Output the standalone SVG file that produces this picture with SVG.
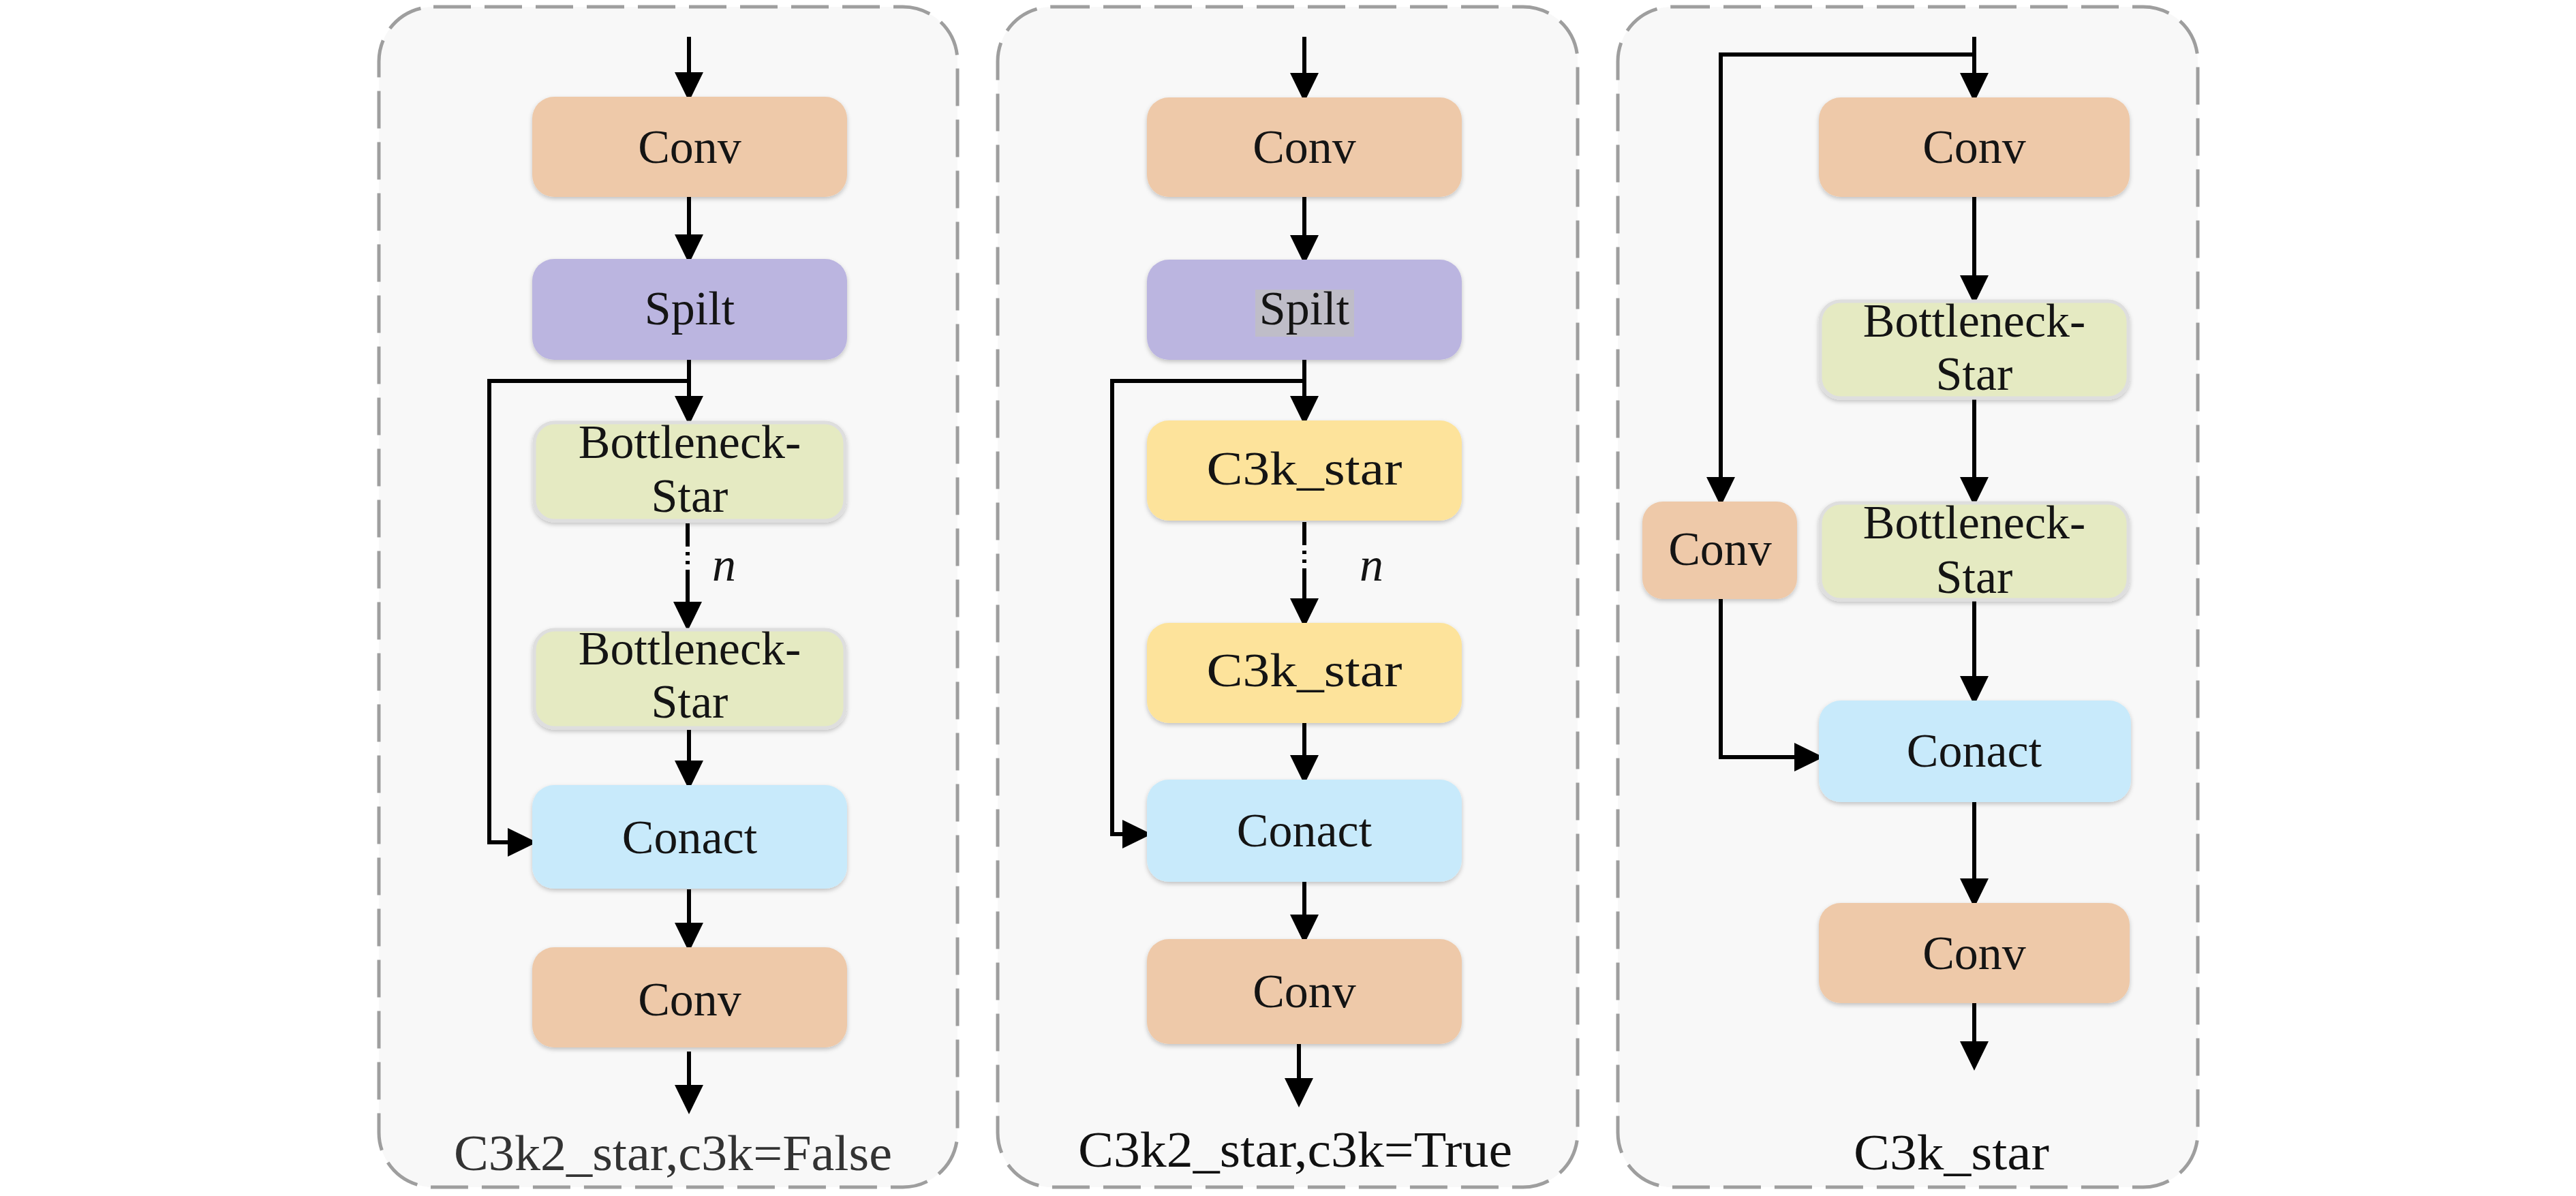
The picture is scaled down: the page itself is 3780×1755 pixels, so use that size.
<svg xmlns="http://www.w3.org/2000/svg" width="3780" height="1755" viewBox="0 0 3780 1755">
<defs>
<style>
.panel{fill:#F8F8F8;stroke:#9E9E9E;stroke-width:5;stroke-dasharray:55 20}
.box{filter:url(#sh)}
.conv{fill:#EEC9A9}
.split{fill:#BBB5E0}
.bneck{fill:#E5EAC2;stroke:#DEDEDE;stroke-width:5}
.c3k{fill:#FDE39B}
.concat{fill:#C8EAFB}
.t{font-family:"Liberation Serif","DejaVu Serif",serif;font-size:70px;fill:#141414;text-anchor:middle}
.it{font-family:"Liberation Serif","DejaVu Serif",serif;font-size:70px;font-style:italic;fill:#141414}
.lab{font-family:"Liberation Serif","DejaVu Serif",serif;font-size:75px;fill:#111}
.ln{fill:none;stroke:#000;stroke-width:6}
.ar{marker-end:url(#ah)}
.dd{stroke-dasharray:34 8 5 8 5 8 400}
</style>
<marker id="ah" markerUnits="userSpaceOnUse" markerWidth="43" markerHeight="42" viewBox="0 0 43 42" refX="36" refY="21" orient="auto">
<path d="M0,0 L43,21 L0,42 z" fill="#000"/>
</marker>
<filter id="sh" x="-10%" y="-10%" width="120%" height="130%">
<feDropShadow dx="0" dy="3" stdDeviation="3" flood-color="#000" flood-opacity="0.22"/>
</filter>
</defs>
<rect x="0" y="0" width="3780" height="1755" fill="#FFFFFF"/>

<g id="panel1">
<rect class="panel" x="556" y="10" width="849" height="1732" rx="80"/>
<text class="lab" x="666" y="1717" textLength="643" lengthAdjust="spacingAndGlyphs" style="fill:#333">C3k2_star,c3k=False</text>
</g>
<g id="panel2">
<rect class="panel" x="1464" y="10" width="851" height="1732" rx="80"/>
<text class="lab" x="1582" y="1712" textLength="637" lengthAdjust="spacingAndGlyphs">C3k2_star,c3k=True</text>
</g>
<g id="panel3">
<rect class="panel" x="2374" y="10" width="851" height="1732" rx="80"/>
<text class="lab" x="2720" y="1716" textLength="287" lengthAdjust="spacingAndGlyphs">C3k_star</text>
</g>

<g id="connectors">
<!-- panel 1 -->
<path class="ln ar" d="M1011,54 V142"/>
<path class="ln ar" d="M1011,289 V380"/>
<path class="ln ar" d="M1011,528 V617"/>
<path class="ln ar dd" d="M1009,768 V919"/>
<path class="ln ar" d="M1011,1071 V1152"/>
<path class="ln ar" d="M1011,1305 V1390"/>
<path class="ln ar" d="M1011,1543 V1628"/>
<path class="ln ar" d="M1011,559 H718 V1236 H781"/>
<!-- panel 2 -->
<path class="ln ar" d="M1914,54 V143"/>
<path class="ln ar" d="M1914,289 V381"/>
<path class="ln ar" d="M1914,528 V617"/>
<path class="ln ar dd" d="M1914,766 V914"/>
<path class="ln ar" d="M1914,1061 V1144"/>
<path class="ln ar" d="M1914,1294 V1378"/>
<path class="ln ar" d="M1906,1532 V1618"/>
<path class="ln ar" d="M1914,559 H1632 V1224 H1683"/>
<!-- panel 3 -->
<path class="ln ar" d="M2897,54 V143"/>
<path class="ln ar" d="M2897,80 H2525 V736"/>
<path class="ln ar" d="M2897,289 V440"/>
<path class="ln ar" d="M2897,586 V736"/>
<path class="ln ar" d="M2897,881 V1028"/>
<path class="ln ar" d="M2897,1177 V1325"/>
<path class="ln ar" d="M2897,1472 V1564"/>
<path class="ln ar" d="M2525,879 V1111 H2669"/>
</g>

<!-- panel 1 nodes -->
<g id="p1-conv1"><rect class="box conv" x="781" y="142" width="462" height="147" rx="32"/><text class="t" x="1012" y="239">Conv</text></g>
<g id="p1-split"><rect class="box split" x="781" y="380" width="462" height="148" rx="32"/><text class="t" x="1012" y="476">Spilt</text></g>
<g id="p1-bneck1"><rect class="box bneck" x="784" y="620" width="456" height="144" rx="30"/><text class="t" x="1012" y="672">Bottleneck-</text><text class="t" x="1012" y="751">Star</text></g>
<g id="p1-n"><text class="it" x="1045" y="852">n</text></g>
<g id="p1-bneck2"><rect class="box bneck" x="784" y="924" width="456" height="144" rx="30"/><text class="t" x="1012" y="975">Bottleneck-</text><text class="t" x="1012" y="1053">Star</text></g>
<g id="p1-concat"><rect class="box concat" x="781" y="1152" width="462" height="152" rx="32"/><text class="t" x="1012" y="1252">Conact</text></g>
<g id="p1-conv2"><rect class="box conv" x="781" y="1390" width="462" height="147" rx="32"/><text class="t" x="1012" y="1490">Conv</text></g>

<!-- panel 2 nodes -->
<g id="p2-conv1"><rect class="box conv" x="1683" y="143" width="462" height="146" rx="32"/><text class="t" x="1914" y="239">Conv</text></g>
<g id="p2-split"><rect class="box split" x="1683" y="381" width="462" height="147" rx="32"/><rect x="1842" y="425" width="145" height="69" fill="#BFBDC8"/><text class="t" x="1914" y="476">Spilt</text></g>
<g id="p2-c3k1"><rect class="box c3k" x="1683" y="617" width="462" height="147" rx="32"/><text class="t" x="1914" y="711" textLength="287" lengthAdjust="spacingAndGlyphs">C3k_star</text></g>
<g id="p2-n"><text class="it" x="1995" y="852">n</text></g>
<g id="p2-c3k2"><rect class="box c3k" x="1683" y="914" width="462" height="147" rx="32"/><text class="t" x="1914" y="1007" textLength="287" lengthAdjust="spacingAndGlyphs">C3k_star</text></g>
<g id="p2-concat"><rect class="box concat" x="1683" y="1144" width="462" height="150" rx="32"/><text class="t" x="1914" y="1242">Conact</text></g>
<g id="p2-conv2"><rect class="box conv" x="1683" y="1378" width="462" height="154" rx="32"/><text class="t" x="1914" y="1478">Conv</text></g>

<!-- panel 3 nodes -->
<g id="p3-conv1"><rect class="box conv" x="2669" y="143" width="456" height="146" rx="32"/><text class="t" x="2897" y="239">Conv</text></g>
<g id="p3-bneck1"><rect class="box bneck" x="2671" y="442" width="452" height="142" rx="30"/><text class="t" x="2897" y="494">Bottleneck-</text><text class="t" x="2897" y="572">Star</text></g>
<g id="p3-bneck2"><rect class="box bneck" x="2671" y="738" width="452" height="142" rx="30"/><text class="t" x="2897" y="790">Bottleneck-</text><text class="t" x="2897" y="870">Star</text></g>
<g id="p3-convside"><rect class="box conv" x="2410" y="736" width="227" height="143" rx="30"/><text class="t" x="2524" y="829">Conv</text></g>
<g id="p3-concat"><rect class="box concat" x="2669" y="1028" width="458" height="149" rx="32"/><text class="t" x="2897" y="1125">Conact</text></g>
<g id="p3-conv2"><rect class="box conv" x="2669" y="1325" width="456" height="147" rx="32"/><text class="t" x="2897" y="1422">Conv</text></g>
</svg>
